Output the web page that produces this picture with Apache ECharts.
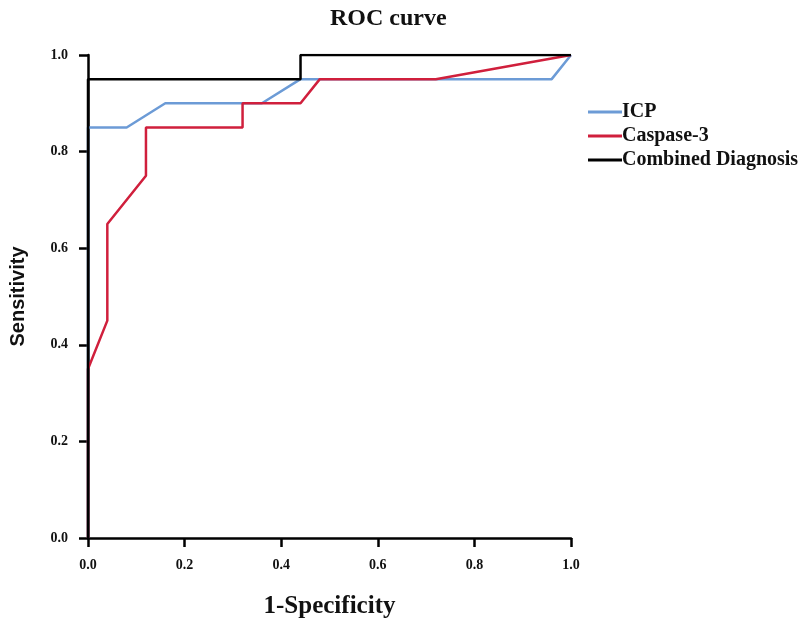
<!DOCTYPE html>
<html><head><meta charset="utf-8">
<script src="https://cdn.jsdelivr.net/npm/echarts@6/dist/echarts.min.js"></script>
<style>html,body{margin:0;padding:0;background:#fff}#c{width:800px;height:625px}</style>
</head><body><div id="c"></div>
<script>
const icpX = [0, 0, 0.08, 0.16, 0.36, 0.44, 0.96, 1.0];
const icpY = [0, 0.85, 0.85, 0.90, 0.90, 0.95, 0.95, 1.0];
const casX = [0, 0, 0.04, 0.04, 0.12, 0.12, 0.32, 0.32, 0.44, 0.48, 0.72, 1.0];
const casY = [0, 0.35, 0.45, 0.65, 0.75, 0.85, 0.85, 0.90, 0.90, 0.95, 0.95, 1.0];
const combX = [0, 0, 0.44, 0.44, 1.0];
const combY = [0, 0.95, 0.95, 1.0, 1.0];
const tickValues = [0, 0.2, 0.4, 0.6, 0.8, 1.0];

const pair = (xs, ys) => xs.map((x, i) => [x, ys[i]]);
const serif = '"Liberation Serif", "DejaVu Serif", serif';
const chart = echarts.init(document.getElementById('c'), null, {renderer: 'canvas'});
const axisCommon = {
  type: 'value', min: 0, max: 1, interval: 0.2,
  axisLine: {show: true, lineStyle: {color: '#000', width: 2.5}},
  axisTick: {show: true, length: 9, lineStyle: {color: '#000', width: 2.5}},
  splitLine: {show: false},
  axisLabel: {color: '#111', fontFamily: serif, fontWeight: 'bold', fontSize: 14,
    formatter: v => v.toFixed(1)}
};
chart.setOption({
  animation: false,
  backgroundColor: '#fff',
  title: {text: 'ROC curve', left: 325, top: 2,
    textStyle: {fontFamily: serif, fontWeight: 'bold', fontSize: 24, color: '#111'}},
  grid: {left: 88, right: 229, top: 55, bottom: 87, containLabel: false},
  legend: {orient: 'vertical', left: 583, top: 97, itemWidth: 34, itemHeight: 3, itemGap: 4,
    icon: 'rect',
    textStyle: {fontFamily: serif, fontWeight: 'bold', fontSize: 20, color: '#111', padding: [0,0,0,-5]},
    data: ['ICP', 'Caspase-3', 'Combined Diagnosis']},
  xAxis: Object.assign({}, axisCommon, {
    name: '1-Specificity', nameLocation: 'middle', nameGap: 56,
    nameTextStyle: {fontFamily: serif, fontWeight: 'bold', fontSize: 25, color: '#111'},
    axisLabel: Object.assign({}, axisCommon.axisLabel, {margin: 20})
  }),
  yAxis: Object.assign({}, axisCommon, {
    name: 'Sensitivity', nameLocation: 'middle', nameGap: 60, nameRotate: 90,
    nameTextStyle: {fontFamily: '"Liberation Sans", Arial, sans-serif', fontWeight: 'bold', fontSize: 20, color: '#111'},
    axisLabel: Object.assign({}, axisCommon.axisLabel, {margin: 20})
  }),
  series: [
    {name: 'ICP', type: 'line', data: pair(icpX, icpY), showSymbol: false, symbol: 'none',
      lineStyle: {color: '#6c9bd6', width: 2.5}, itemStyle: {color: '#6c9bd6'}, z: 2},
    {name: 'Caspase-3', type: 'line', data: pair(casX, casY), showSymbol: false, symbol: 'none',
      lineStyle: {color: '#d01f3c', width: 2.5}, itemStyle: {color: '#d01f3c'}, z: 3},
    {name: 'Combined Diagnosis', type: 'line', data: pair(combX, combY), showSymbol: false, symbol: 'none',
      lineStyle: {color: '#000', width: 2.5}, itemStyle: {color: '#000'}, z: 4}
  ]
});
</script></body></html>
